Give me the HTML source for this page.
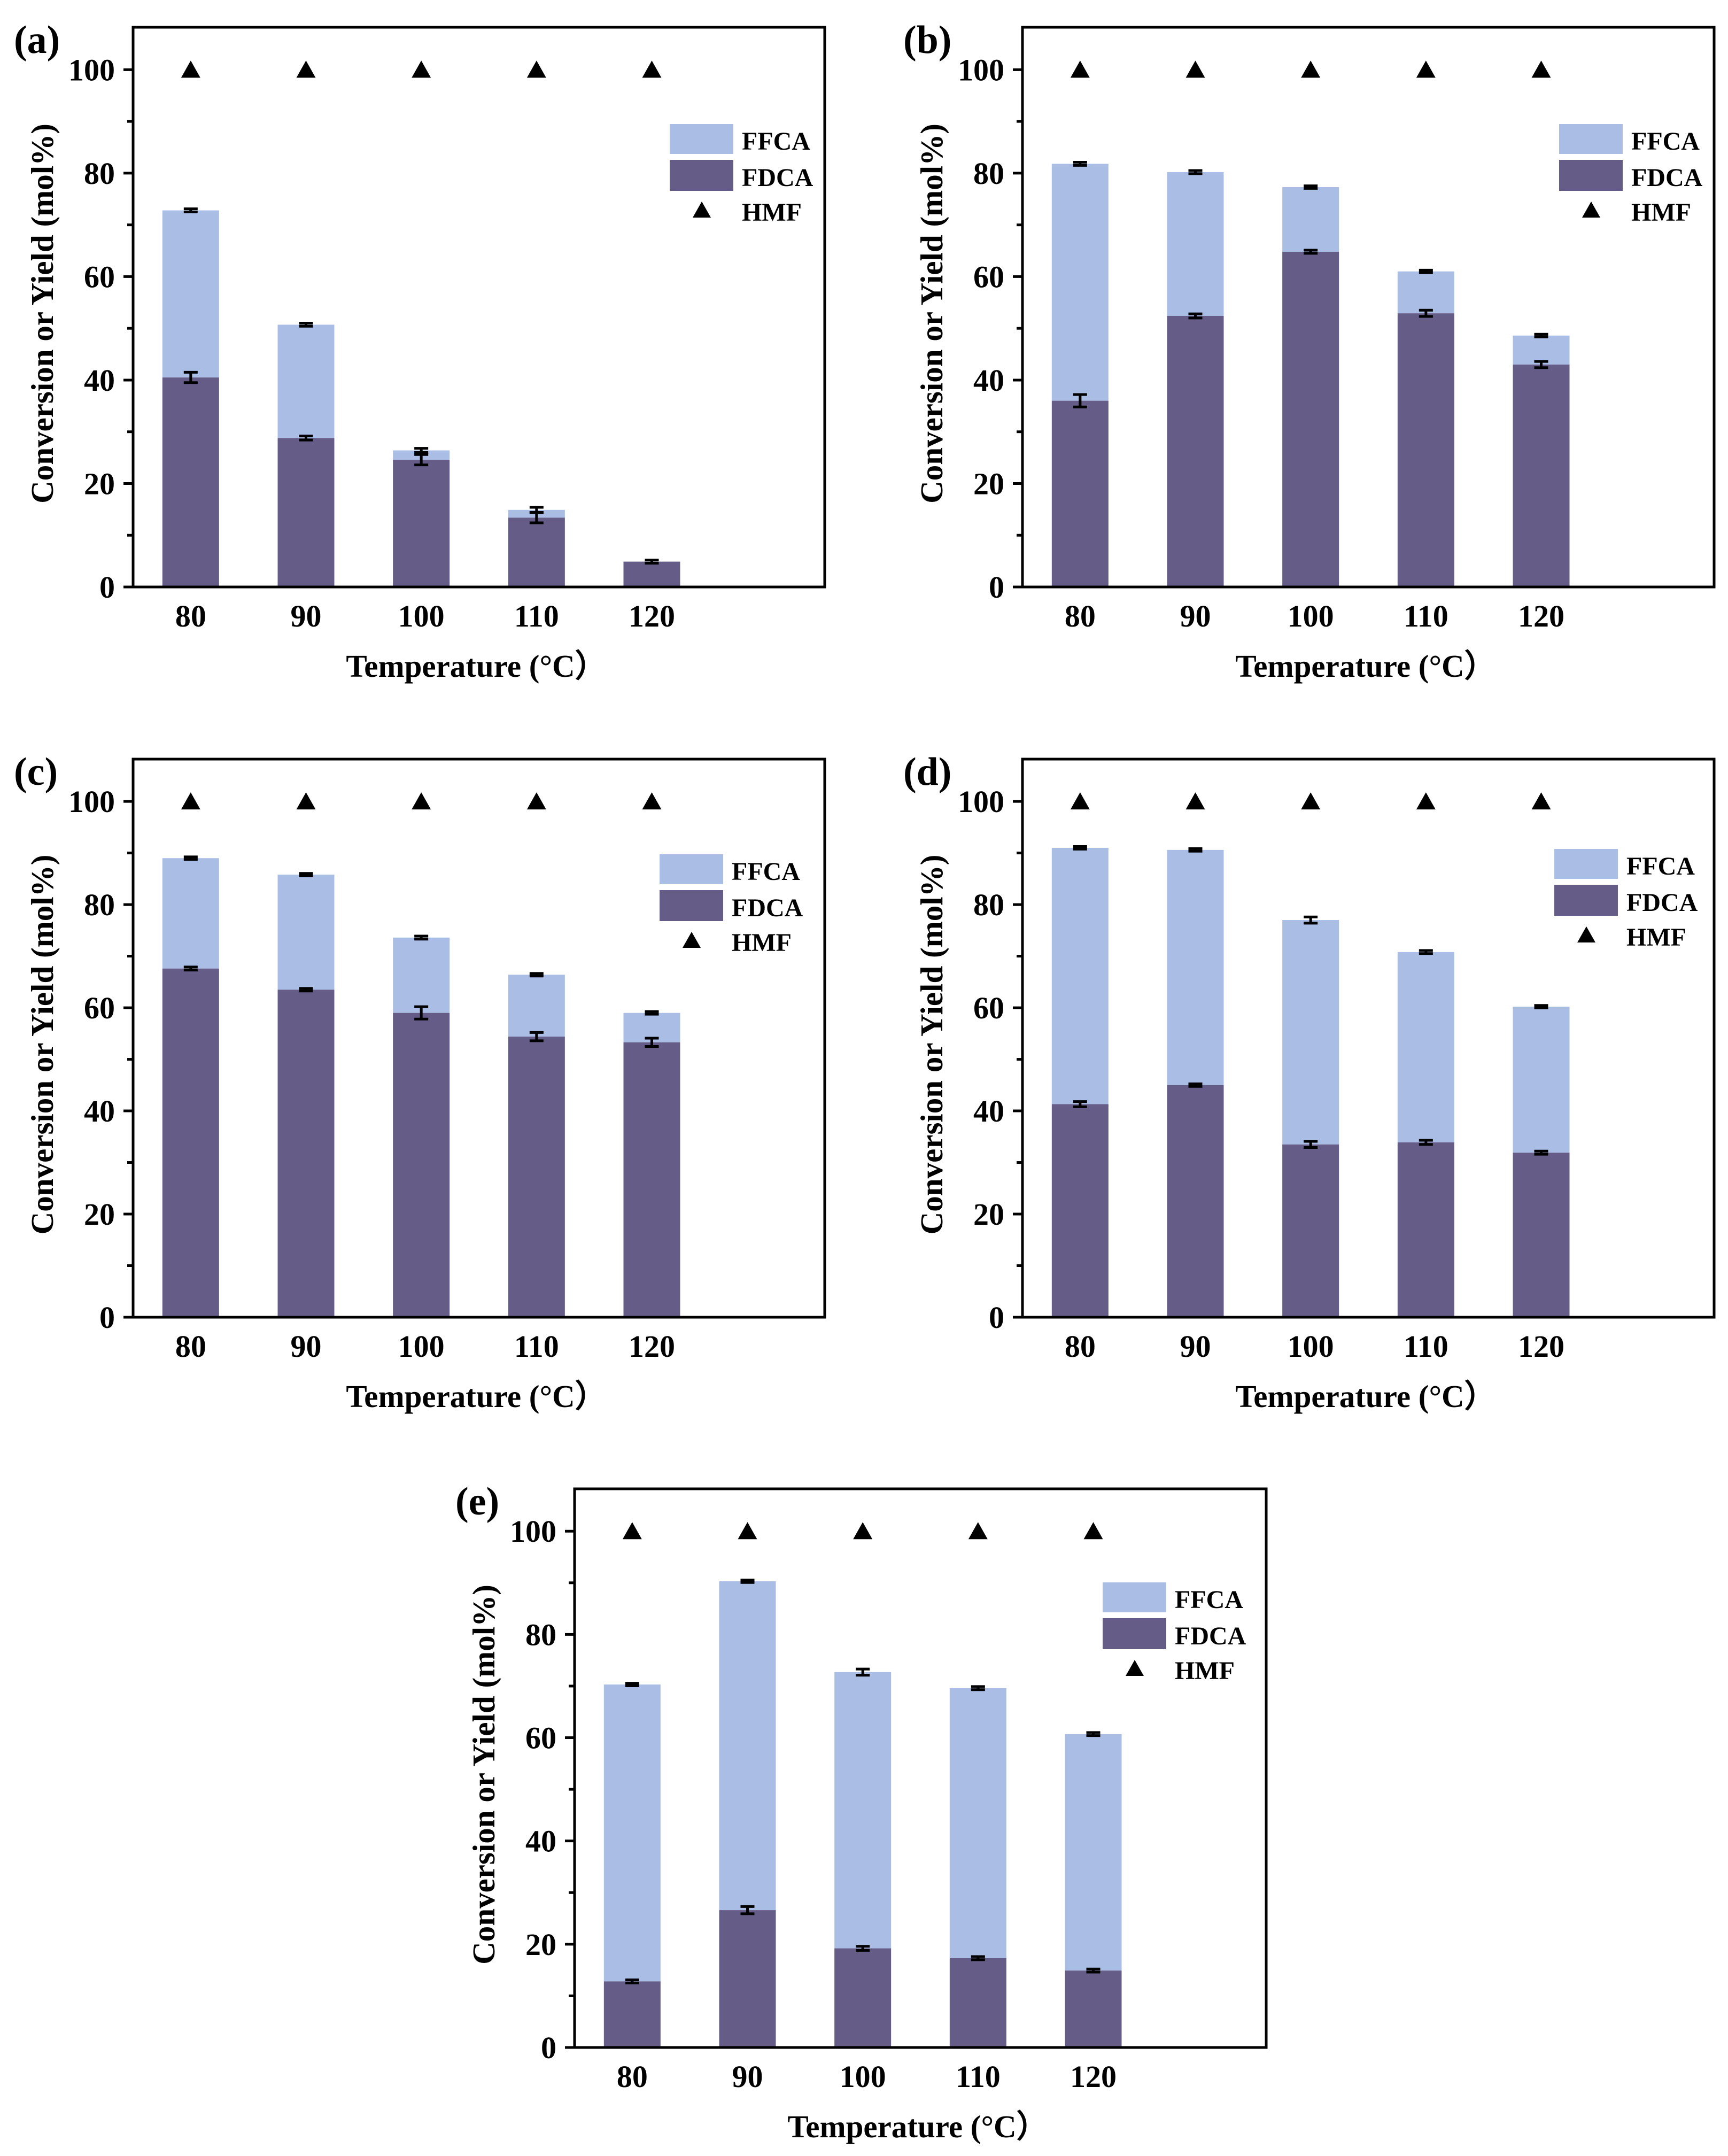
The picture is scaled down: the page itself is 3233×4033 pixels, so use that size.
<!DOCTYPE html>
<html><head><meta charset="utf-8"><style>
html,body{margin:0;padding:0;background:#fff;}
svg{display:block;}
text{font-family:"Liberation Serif",serif;font-weight:bold;fill:#000;}
</style></head>
<body>
<svg id="fig" width="3233" height="4033" viewBox="0 0 3233 4033" xmlns="http://www.w3.org/2000/svg"></svg>
<script>
const categories = ["80","90","100","110","120"];
const yTicks = [0,20,40,60,80,100];
const panelLabels = ["(a)","(b)","(c)","(d)","(e)"];
const fdcaA = [40.5,28.8,24.6,13.4,4.9];
const totalA = [72.8,50.7,26.4,14.9,4.9];
const fdcaB = [36.0,52.4,64.8,52.9,43.0];
const totalB = [81.8,80.2,77.3,61.0,48.6];
const fdcaC = [67.6,63.5,59.0,54.4,53.3];
const totalC = [89.0,85.8,73.6,66.4,59.0];
const fdcaD = [41.3,45.0,33.5,33.9,31.9];
const totalD = [91.0,90.6,77.0,70.8,60.2];
const fdcaE = [12.8,26.6,19.2,17.3,14.9];
const totalE = [70.3,90.3,72.7,69.6,60.7];
const hmf = [100,100,100,100,100];
const fdcaErrA = [1.0,0.4,1.0,1.0,0.3];
const fdcaErrB = [1.2,0.4,0.3,0.6,0.6];
const fdcaErrC = [0.3,0.2,1.2,0.8,0.8];
const fdcaErrD = [0.5,0.2,0.6,0.4,0.3];
const fdcaErrE = [0.3,0.7,0.4,0.3,0.3];
const totalErrA = [0.3,0.3,0.4,0.5,0.3];
const totalErrB = [0.3,0.3,0.2,0.2,0.2];
const totalErrC = [0.2,0.2,0.3,0.2,0.2];
const totalErrD = [0.2,0.2,0.6,0.3,0.2];
const totalErrE = [0.2,0.2,0.6,0.3,0.3];

const NS="http://www.w3.org/2000/svg";
const svg=document.getElementById('fig');
function el(tag,attrs,parent){const e=document.createElementNS(NS,tag);for(const k in attrs)e.setAttribute(k,attrs[k]);(parent||svg).appendChild(e);return e;}

const panels=[
 {L:249,T:51,B:1098,fd:fdcaA,tot:totalA,fe:fdcaErrA,te:totalErrA,lx:1004,ly:181},
 {L:1913,T:51,B:1098,fd:fdcaB,tot:totalB,fe:fdcaErrB,te:totalErrB,lx:1004,ly:181},
 {L:249,T:1420,B:2464,fd:fdcaC,tot:totalC,fe:fdcaErrC,te:totalErrC,lx:985,ly:178},
 {L:1913,T:1420,B:2464,fd:fdcaD,tot:totalD,fe:fdcaErrD,te:totalErrD,lx:995,ly:168},
 {L:1075,T:2785,B:3830,fd:fdcaE,tot:totalE,fe:fdcaErrE,te:totalErrE,lx:988,ly:175}
];
const W=1294, YMAX=108.2;

panels.forEach((p,pi)=>{
 const g=el('g',{});
 
 
 const y=v=>p.B-(v/YMAX)*(p.B-p.T);
 const slot=W/6;
 const x=i=>p.L+slot*(i+0.5);
 const bw=106;
 categories.forEach((c,i)=>{
  const ff=el('rect',{x:x(i)-bw/2,y:y(p.tot[i]),width:bw,height:y(p.fd[i])-y(p.tot[i]),fill:'#a9bde5'},g);
  
  
  const fd=el('rect',{x:x(i)-bw/2,y:y(p.fd[i]),width:bw,height:p.B-y(p.fd[i]),fill:'#655c87'},g);
  
  
 });
 function err(i,v,e,name){
  const eg=el('g',{stroke:'#000','stroke-width':5},g);
  
  
  const e2=Math.max(e,0.25);
  el('line',{x1:x(i),x2:x(i),y1:y(v+e2),y2:y(v-e2)},eg);
  el('line',{x1:x(i)-13,x2:x(i)+13,y1:y(v+e2),y2:y(v+e2)},eg);
  el('line',{x1:x(i)-13,x2:x(i)+13,y1:y(v-e2),y2:y(v-e2)},eg);
 }
 categories.forEach((c,i)=>{
  if(p.tot[i]-p.fd[i]>0.5) err(i,p.tot[i],p.te[i],'ffca-error-'+c);
  err(i,p.fd[i],p.fe[i],'fdca-error-'+c);
 });
 categories.forEach((c,i)=>{
  const cx=x(i),cy=y(hmf[i]);
  const t=el('polygon',{points:`${cx-18},${cy+15} ${cx+18},${cy+15} ${cx},${cy-17}`,fill:'#000'},g);
  
  
 });
 const fr=el('rect',{x:p.L,y:p.T,width:W,height:p.B-p.T,fill:'none',stroke:'#000','stroke-width':5},g);
 
 
 for(let v=0;v<=100;v+=10){
  const major=v%20===0;
  el('line',{x1:p.L-(major?18:11),x2:p.L,y1:y(v),y2:y(v),stroke:'#000','stroke-width':5},g);
 }
 yTicks.forEach(v=>{
  const t=el('text',{x:p.L-34,y:y(v)+20,'font-size':58,'text-anchor':'end'},g);
  t.textContent=v;
  
  
 });
 categories.forEach((c,i)=>{
  const t=el('text',{x:x(i),y:p.B+74,'font-size':58,'text-anchor':'middle'},g);
  t.textContent=c;
  
  
 });
 const xt=el('text',{x:p.L+W/2-5,y:p.B+168,'font-size':59,'text-anchor':'middle'},g);
 xt.textContent='Temperature (°C）';
 
 
 const cy=(p.T+p.B)/2+12;
 const yx=p.L-150;
 const yt=el('text',{x:yx,y:cy,'font-size':59,'text-anchor':'middle',transform:`rotate(-90 ${yx} ${cy})`},g);
 yt.textContent='Conversion or Yield (mol%)';
 
 
 const pl=el('text',{x:p.L-223,y:p.T+48,'font-size':74},g);
 pl.textContent=panelLabels[pi];
 
 
 const lg=el('g',{},g);
 
 
 const lx=p.L+p.lx, ly=p.T+p.ly;
 el('rect',{x:lx,y:ly,width:119,height:56,fill:'#a9bde5'},lg);
 el('rect',{x:lx,y:ly+67,width:119,height:58,fill:'#655c87'},lg);
 el('polygon',{points:`${lx+43},${ly+175} ${lx+77},${ly+175} ${lx+60},${ly+145}`,fill:'#000'},lg);
 [['FFCA',48],['FDCA',116],['HMF',181]].forEach(([s,dy])=>{
  const t=el('text',{x:lx+135,y:ly+dy,'font-size':48},lg);
  t.textContent=s;
  
  
 });
});
</script>
</body></html>
